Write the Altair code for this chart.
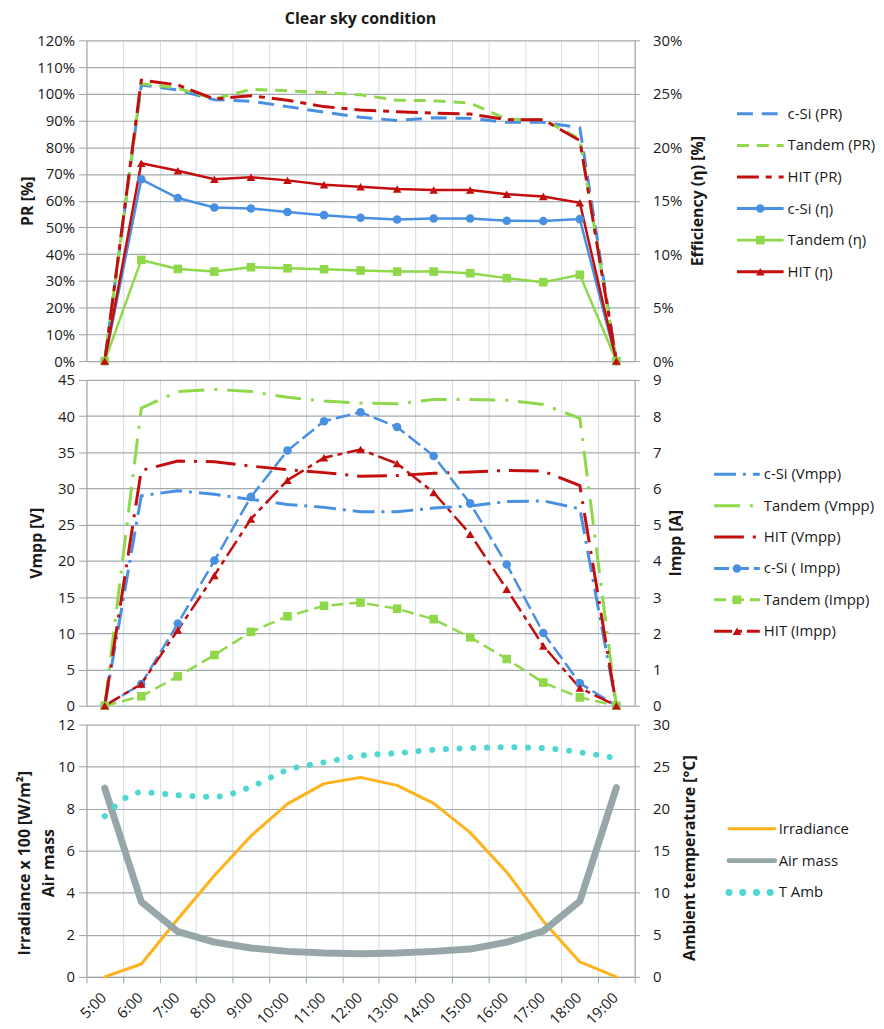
import altair as alt
import pandas as pd

# ---------------- data ----------------
times = ["5:00", "6:00", "7:00", "8:00", "9:00", "10:00", "11:00", "12:00",
         "13:00", "14:00", "15:00", "16:00", "17:00", "18:00", "19:00"]

# Performance ratio (fraction)
pr_csi = [0, 1.033, 1.014, 0.978, 0.972, 0.952, 0.931, 0.912, 0.900, 0.910, 0.908, 0.893, 0.893, 0.873, 0]
pr_tandem = [0, 1.038, 1.021, 0.980, 1.017, 1.011, 1.005, 0.996, 0.976, 0.974, 0.965, 0.905, 0.903, 0.831, 0]
pr_hit = [0, 1.051, 1.033, 0.980, 0.993, 0.976, 0.952, 0.939, 0.933, 0.928, 0.924, 0.903, 0.903, 0.825, 0]

# Efficiency (fraction)
eta_csi = [0, 0.170, 0.1525, 0.1436, 0.1427, 0.1395, 0.1365, 0.1340, 0.1324, 0.1334, 0.1334, 0.1312, 0.1310, 0.1328, 0]
eta_tandem = [0, 0.0946, 0.0862, 0.0837, 0.0878, 0.0868, 0.0859, 0.0847, 0.0837, 0.0837, 0.0822, 0.0776, 0.0738, 0.0807, 0]
eta_hit = [0, 0.185, 0.178, 0.170, 0.172, 0.169, 0.165, 0.163, 0.161, 0.160, 0.160, 0.156, 0.154, 0.148, 0]

# Vmpp [V]
vmpp_csi = [0, 29.0, 29.7, 29.2, 28.5, 27.8, 27.4, 26.8, 26.8, 27.3, 27.6, 28.2, 28.3, 27.2, 0]
vmpp_tandem = [0, 41.1, 43.4, 43.7, 43.4, 42.6, 42.1, 41.8, 41.7, 42.3, 42.3, 42.2, 41.6, 39.7, 0]
vmpp_hit = [0, 32.5, 33.8, 33.7, 33.1, 32.6, 32.2, 31.7, 31.8, 32.1, 32.3, 32.5, 32.4, 30.4, 0]

# Impp [A]
impp_csi = [0, 0.60, 2.27, 4.01, 5.77, 7.05, 7.86, 8.11, 7.70, 6.90, 5.59, 3.90, 2.01, 0.62, 0]
impp_tandem = [0, 0.26, 0.81, 1.40, 2.04, 2.47, 2.76, 2.85, 2.68, 2.39, 1.89, 1.29, 0.64, 0.23, 0]
impp_hit = [0, 0.60, 2.09, 3.60, 5.16, 6.23, 6.85, 7.08, 6.69, 5.89, 4.74, 3.22, 1.65, 0.49, 0]

# Irradiance x 100 [W/m2], air mass, ambient temperature [C]
irradiance = [0, 0.61, 2.75, 4.82, 6.70, 8.23, 9.19, 9.49, 9.11, 8.25, 6.86, 4.98, 2.65, 0.71, 0]
air_mass = [8.98, 3.57, 2.15, 1.65, 1.37, 1.21, 1.13, 1.10, 1.13, 1.21, 1.32, 1.65, 2.18, 3.60, 9.00]
t_amb = [19.1, 21.95, 21.6, 21.4, 22.6, 24.6, 25.5, 26.3, 26.6, 27.0, 27.2, 27.3, 27.2, 26.7, 26.0]

# ---------------- styling ----------------
FONT = "Open Sans"
BLUE, GREEN, RED = "#4a90e2", "#8ed84a", "#c40e0e"
ORANGE, GREY, TEAL = "#ffb21a", "#97a7a9", "#4fd8d2"
GRID_H, GRID_V, AXIS, TXT = "#a3abae", "#cfdce3", "#98a2a6", "#1a1a1a"

W = 552
H_TOP, H_MID, H_BOT = 323, 328, 254


def long_df(series):
    rows = []
    for name, vals in series:
        for i, (t, v) in enumerate(zip(times, vals)):
            rows.append({"x": i + 0.5, "time": t, "series": name, "value": v})
    return pd.DataFrame(rows)


def x_enc(labels):
    if labels:
        axis = alt.Axis(values=list(range(16)), grid=True, gridColor=GRID_V, gridWidth=1,
                        labels=True,
                        labelExpr="datum.value < 15 ? (datum.value + 5) + ':00' : ''",
                        labelAngle=315, labelAlign="right", labelBaseline="middle",
                        labelOffset=17, labelFlush=False, labelOverlap=False, labelPadding=12,
                        labelFont=FONT, labelFontSize=15, labelColor=TXT,
                        ticks=True, tickSize=6, tickColor=AXIS, domain=True, domainColor=AXIS,
                        title=None)
    else:
        axis = alt.Axis(values=list(range(16)), grid=True, gridColor=GRID_V, gridWidth=1,
                        labels=False, ticks=False, domain=False, title=None)
    return alt.X("x:Q", scale=alt.Scale(domain=[0, 15], nice=False, zero=False), axis=axis)


def y_enc(domain, values, fmt, side, title, tx, ty):
    kw = dict(values=values, format=fmt, labelFont=FONT, labelFontSize=15, labelColor=TXT,
              domainColor=AXIS, tickColor=AXIS, labelOverlap=False,
              title=title, titleFont=FONT, titleFontSize=16, titleFontWeight="bold",
              titleColor=TXT, titleX=tx, titleY=ty, titleAngle=270, titleAlign="center",
              titleBaseline="middle", titleLineHeight=24)
    if side == "left":
        axis = alt.Axis(orient="left", grid=True, gridColor=GRID_H, gridWidth=1.2,
                        tickSize=8, labelPadding=4, **kw)
    else:
        axis = alt.Axis(orient="right", grid=False, tickSize=5, labelPadding=13, **kw)
    return alt.Y("value:Q", scale=alt.Scale(domain=domain, nice=False, zero=True), axis=axis)


def lines(df, x, y, cscale, dscale=None, width=3, interpolate="linear"):
    enc = dict(x=x, y=y, color=alt.Color("series:N", scale=cscale, legend=None),
               detail="series:N")
    if dscale is not None:
        enc["strokeDash"] = alt.StrokeDash("series:N", scale=dscale, legend=None)
    return alt.Chart(df).mark_line(strokeWidth=width, interpolate=interpolate).encode(**enc)


def points(df, x, y, cscale, shapes, names):
    return alt.Chart(df).mark_point(filled=True, size=75, opacity=1).encode(
        x=x, y=y,
        color=alt.Color("series:N", scale=cscale, legend=None),
        shape=alt.Shape("series:N", scale=alt.Scale(domain=names, range=shapes), legend=None),
    )


MARKERS = ["circle", "square", "triangle-up"]

# ---------------- top panel ----------------
top_labels = ["c-Si (PR)", "Tandem (PR)", "HIT (PR)", "c-Si (η)", "Tandem (η)", "HIT (η)"]
top_colors = [BLUE, GREEN, RED, BLUE, GREEN, RED]
top_dashes = [[16, 9], [12, 8], [22, 7, 6, 7], [1, 0], [1, 0], [1, 0]]
top_widths = [3, 3, 3, 2.5, 2.5, 2.5]

pr_df = long_df(zip(top_labels[:3], [pr_csi, pr_tandem, pr_hit]))
eta_df = long_df(zip(top_labels[3:], [eta_csi, eta_tandem, eta_hit]))
c_top = alt.Scale(domain=top_labels, range=top_colors)
d_top = alt.Scale(domain=top_labels, range=top_dashes)

y_pr = y_enc([0, 1.2], [round(i / 10, 2) for i in range(13)], ".0%", "left", "PR [%]", -59, H_TOP / 2)
y_eta = y_enc([0, 0.3], [round(i * 0.05, 2) for i in range(7)], ".0%", "right",
              "Efficiency (η) [%]", 63, H_TOP / 2)
xt = x_enc(False)

top_left = lines(pr_df, xt, y_pr, c_top, d_top, 3)
top_right = alt.layer(lines(eta_df, xt, y_eta, c_top, None, 2.5),
                      points(eta_df, xt, y_eta, c_top, MARKERS, top_labels[3:]))
top = alt.layer(top_left, top_right).resolve_scale(y="independent").properties(
    width=W, height=H_TOP,
    title=alt.TitleParams("Clear sky condition", font=FONT, fontSize=16, fontWeight="bold",
                          color=TXT, anchor="middle", frame="group", offset=6))

# ---------------- middle panel ----------------
mid_labels = ["c-Si (Vmpp)", "Tandem (Vmpp)", "HIT (Vmpp)", "c-Si ( Impp)", "Tandem (Impp)", "HIT (Impp)"]
mid_colors = [BLUE, GREEN, RED, BLUE, GREEN, RED]
mid_dashes = [[22, 7, 3, 7], [26, 10, 3, 10], [30, 9, 3, 9], [15, 5], [12, 6], [18, 5, 5, 5]]
mid_widths = [3, 3, 3, 2.5, 2.5, 2.5]

v_df = long_df(zip(mid_labels[:3], [vmpp_csi, vmpp_tandem, vmpp_hit]))
i_df = long_df(zip(mid_labels[3:], [impp_csi, impp_tandem, impp_hit]))
c_mid = alt.Scale(domain=mid_labels, range=mid_colors)
d_mid = alt.Scale(domain=mid_labels, range=mid_dashes)

y_v = y_enc([0, 45], list(range(0, 46, 5)), "d", "left", "Vmpp [V]", -50, H_MID / 2)
y_i = y_enc([0, 9], list(range(0, 10)), "d", "right", "Impp [A]", 41, H_MID / 2)

mid_left = lines(v_df, xt, y_v, c_mid, d_mid, 3)
mid_right = alt.layer(lines(i_df, xt, y_i, c_mid, d_mid, 2.5),
                      points(i_df, xt, y_i, c_mid, MARKERS, mid_labels[3:]))
mid = alt.layer(mid_left, mid_right).resolve_scale(y="independent").properties(width=W, height=H_MID)

# ---------------- bottom panel ----------------
bot_labels = ["Irradiance", "Air mass", "T Amb"]
bot_colors = [ORANGE, GREY, TEAL]
bot_dashes = [[1, 0], [1, 0], [0.1, 13.7]]
bot_widths = [3, 7, 6]

env_df = long_df(zip(bot_labels[:2], [irradiance, air_mass]))
t_df = long_df([(bot_labels[2], t_amb)])
c_bot = alt.Scale(domain=bot_labels, range=bot_colors)
xb = x_enc(True)

y_env = y_enc([0, 12], list(range(0, 13, 2)), "d", "left",
              ["Irradiance x 100 [W/m²]", "Air mass"], -62, H_BOT / 2 + 12)
y_t = y_enc([0, 30], list(range(0, 31, 5)), "d", "right",
            "Ambient temperature [°C]", 55, H_BOT / 2 + 7)

bot_left = alt.Chart(env_df).mark_line(strokeCap="round", strokeJoin="round").encode(
    x=xb, y=y_env,
    color=alt.Color("series:N", scale=c_bot, legend=None),
    strokeWidth=alt.StrokeWidth("series:N", scale=alt.Scale(domain=bot_labels[:2], range=bot_widths[:2]),
                                legend=None),
    detail="series:N",
)
bot_right = alt.Chart(t_df).mark_line(interpolate="monotone", strokeCap="round",
                                      strokeDash=[0.1, 13.7], strokeWidth=6).encode(
    x=xb, y=y_t, color=alt.Color("series:N", scale=c_bot, legend=None))
bot = alt.layer(bot_left, bot_right).resolve_scale(y="independent").properties(width=W, height=H_BOT)


# ---------------- legends ----------------
def legend(labels, colors, dashes, widths, marks, x_range, y_range, height, cap="butt"):
    df = pd.DataFrame({"label": labels, "idx": list(range(len(labels)))})
    xs = alt.Scale(domain=[0, 1], range=x_range)
    ys = alt.Scale(domain=[0, len(labels) - 1], range=y_range)
    y = alt.Y("idx:Q", scale=ys, axis=None)
    col = alt.Color("label:N", scale=alt.Scale(domain=labels, range=colors), legend=None)
    rule = alt.Chart(df).mark_rule(strokeCap=cap).encode(
        x=alt.XDatum(0, type="quantitative", scale=xs, axis=None),
        x2=alt.X2Datum(1),
        y=y, color=col,
        strokeDash=alt.StrokeDash("label:N", scale=alt.Scale(domain=labels, range=dashes), legend=None),
        strokeWidth=alt.StrokeWidth("label:N", scale=alt.Scale(domain=labels, range=widths), legend=None),
    )
    text = alt.Chart(df).mark_text(align="left", baseline="middle", dx=4, font=FONT,
                                   fontSize=15, color=TXT).encode(
        x=alt.XDatum(1, type="quantitative", scale=xs, axis=None), y=y, text="label:N")
    layers = [rule]
    if marks:
        mdf = df[df["label"].isin([l for l, m in zip(labels, marks) if m])]
        mk_names = [l for l, m in zip(labels, marks) if m]
        mk_shapes = [m for m in marks if m]
        layers.append(alt.Chart(mdf).mark_point(filled=True, size=75, opacity=1).encode(
            x=alt.XDatum(0.5, type="quantitative", scale=xs, axis=None), y=y, color=col,
            shape=alt.Shape("label:N", scale=alt.Scale(domain=mk_names, range=mk_shapes), legend=None)))
    layers.append(text)
    return alt.layer(*layers).properties(width=160, height=height)


leg_top = legend(top_labels, top_colors, top_dashes, top_widths,
                 [None, None, None] + MARKERS, [28, 75], [74, 233], H_TOP)
leg_mid = legend(mid_labels, mid_colors, mid_dashes, mid_widths,
                 [None, None, None] + MARKERS, [5, 51], [95, 253], H_MID)
leg_bot = legend(bot_labels, bot_colors, bot_dashes, bot_widths,
                 None, [20, 66], [105, 169], H_BOT, cap="round")

chart = alt.concat(top, leg_top, mid, leg_mid, bot, leg_bot, columns=2,
                   spacing={"row": 19, "column": 75}, bounds="flush").resolve_scale(
    color="independent", strokeDash="independent", strokeWidth="independent", shape="independent",
).properties(
    padding={"left": 9, "top": 0, "right": 0, "bottom": 0},
    background="white",
).configure_view(strokeWidth=0)

chart.save("out.html", embed_options={"renderer": "svg", "actions": False})
